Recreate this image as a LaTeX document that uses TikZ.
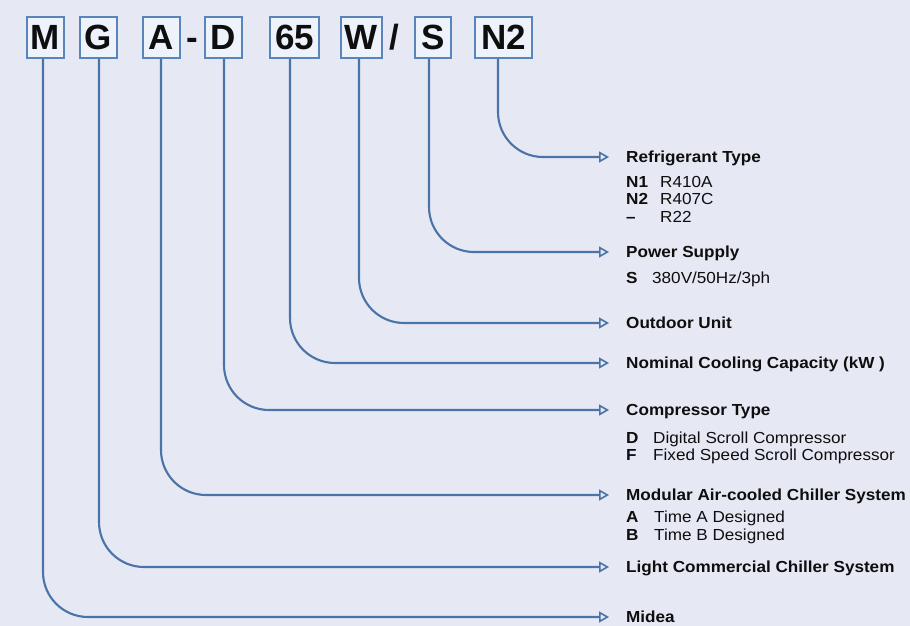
\documentclass[tikz,border=0pt]{standalone}
\usepackage{fontspec}
\setmainfont{Liberation Sans}
\newfontfamily\labfont[FakeStretch=1.07]{Liberation Sans}
\usetikzlibrary{arrows.meta}
\definecolor{bg}{HTML}{E6E8F4}
\definecolor{boxfill}{HTML}{EDF2FB}
\definecolor{boxline}{HTML}{5A85BA}
\definecolor{connblue}{HTML}{4A73A8}
\definecolor{halo}{HTML}{F0F4FC}
\definecolor{txt}{HTML}{0E0E0E}
\begin{document}
\begin{tikzpicture}[x=1pt,y=-1pt,
  letterbox/.style={draw=boxline, line width=1.8pt, fill=boxfill, inner sep=0pt,
    minimum height=41pt, font=\fontsize{35}{40}\selectfont\bfseries,
    text height=25pt, text depth=0pt, text=txt},
  sepchar/.style={inner sep=0pt, font=\fontsize{35}{40}\selectfont\bfseries,
    text height=25pt, text depth=0pt, text=txt},
  head/.style={anchor=west, inner sep=0pt, font=\labfont\fontsize{16}{19}\selectfont\bfseries,
    text height=11.4pt, text depth=0pt, text=txt},
  code/.style={anchor=base west, inner sep=0pt, font=\labfont\fontsize{16}{19}\selectfont\bfseries, text=txt},
  val/.style={anchor=base west, inner sep=0pt, font=\labfont\fontsize{16}{19}\selectfont, text=txt},
  connector/.style={draw=connblue, line width=2.1pt, rounded corners=45pt, shorten >=17pt,
    -{Triangle[open, length=10pt, width=11pt, line width=1.6pt]}},
]
\fill[bg] (0,0) rectangle (910,626);
\useasboundingbox (0,0) rectangle (910,626);

% code letters
\node[letterbox, minimum width=37pt] (bM)  at (45.5,37.5)  {M};
\node[letterbox, minimum width=37pt] (bG)  at (98.5,37.5)  {G};
\node[letterbox, minimum width=37pt] (bA)  at (161.5,37.5) {A};
\node[sepchar] (dash) at (192.5,37.5) {-};
\node[letterbox, minimum width=37pt] (bD)  at (223.5,37.5) {D};
\node[letterbox, minimum width=49pt] (b65) at (294.5,37.5) {65};
\node[letterbox, minimum width=41pt] (bW)  at (361.5,37.5) {W};
\node[sepchar] (slash) at (394,37.5) {/};
\node[letterbox, minimum width=36pt] (bS)  at (433,37.5)   {S};
\node[letterbox, minimum width=57pt] (bN2) at (503.5,37.5) {N2};

% headings
\node[head] (hN2) at (626,157) {Refrigerant Type};
\node[head] (hS)  at (626,252) {Power Supply};
\node[head] (hW)  at (626,323) {Outdoor Unit};
\node[head] (h65) at (626,363) {Nominal Cooling Capacity (kW )};
\node[head] (hD)  at (626,410) {Compressor Type};
\node[head] (hA)  at (626,495) {Modular Air-cooled Chiller System};
\node[head] (hG)  at (626,567) {Light Commercial Chiller System};
\node[head] (hM)  at (626,617) {Midea};

% sub items
\node[code] (cN1) at (626,187) {N1};  \node[val] (vN1) at (660,187) {R410A};
\node[code] (cN2) at (626,204.5) {N2};  \node[val] (vN2) at (660,204.5) {R407C};
\node[code] (cNo) at (626,222) {–};   \node[val] (vNo) at (660,222) {R22};
\node[code] (cS)  at (626,283) {S};   \node[val] (vS)  at (652,283) {380V/50Hz/3ph};
\node[code] (cD)  at (626,443.5) {D};   \node[val] (vD)  at (653,443.5) {Digital Scroll Compressor};
\node[code] (cF)  at (626,460) {F};   \node[val] (vF)  at (653,460) {Fixed Speed Scroll Compressor};
\node[code] (cA)  at (626,522) {A};   \node[val] (vA)  at (654,522) {Time A Designed};
\node[code] (cB)  at (626,540) {B};   \node[val] (vB)  at (654,540) {Time B Designed};

% connectors
\draw[connector] ([xshift=-5.5pt]bN2.south) |- (hN2.west);
\draw[connector] ([xshift=-4pt]bS.south)    |- (hS.west);
\draw[connector] ([xshift=-2.5pt]bW.south)  |- (hW.west);
\draw[connector] ([xshift=-4.5pt]b65.south) |- (h65.west);
\draw[connector] ([xshift=0.5pt]bD.south)   |- (hD.west);
\draw[connector] ([xshift=-0.5pt]bA.south)  |- (hA.west);
\draw[connector] ([xshift=0.5pt]bG.south)   |- (hG.west);
\draw[connector] ([xshift=-2.5pt]bM.south)  |- (hM.west);
\end{tikzpicture}
\end{document}
